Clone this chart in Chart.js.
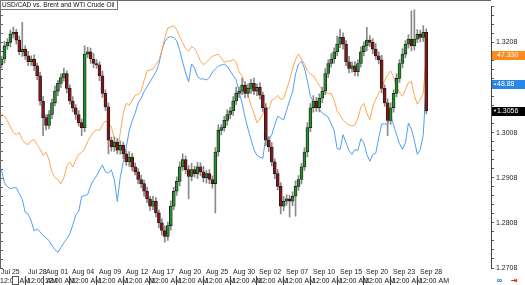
<!DOCTYPE html>
<html>
<head>
<meta charset="utf-8">
<script src="https://cdn.jsdelivr.net/npm/chart.js@4.4.0/dist/chart.umd.min.js"></script>
<style>
  html, body { margin: 0; padding: 0; background: #fff; }
</style>
</head>
<body>
<canvas id="chart" width="525" height="285"></canvas>
<script>
// USD/CAD bars, 3 per trading day, Jul 25 -> Sep 28
const usdcadClose = [
  1.3171, 1.3200, 1.3208, 1.3226, 1.3230, 1.3213, 1.3187, 1.3193, 1.3178, 1.3165,
  1.3171, 1.3156, 1.3134, 1.3078, 1.3041, 1.3024, 1.3048, 1.3074, 1.3100, 1.3117,
  1.3130, 1.3139, 1.3106, 1.3078, 1.3063, 1.3048, 1.3030, 1.3019, 1.3182, 1.3187,
  1.3171, 1.3161, 1.3158, 1.3134, 1.3095, 1.3065, 1.2991, 1.2976, 1.2987, 1.2969,
  1.2980, 1.2961, 1.2943, 1.2954, 1.2932, 1.2921, 1.2904, 1.2895, 1.2878, 1.2861,
  1.2845, 1.2856, 1.2830, 1.2808, 1.2791, 1.2778, 1.2802, 1.2845, 1.2878, 1.2900,
  1.2932, 1.2948, 1.2926, 1.2911, 1.2926, 1.2917, 1.2932, 1.2921, 1.2908, 1.2917,
  1.2904, 1.2895, 1.2965, 1.3013, 1.3019, 1.3035, 1.3048, 1.3056, 1.3078, 1.3095,
  1.3100, 1.3113, 1.3095, 1.3106, 1.3117, 1.3100, 1.3108, 1.3091, 1.3063, 1.2991,
  1.2976, 1.2943, 1.2917, 1.2889, 1.2845, 1.2856, 1.2861, 1.2856, 1.2867, 1.2889,
  1.2904, 1.2932, 1.2965, 1.3019, 1.3063, 1.3078, 1.3063, 1.3084, 1.3100, 1.3139,
  1.3161, 1.3171, 1.3187, 1.3204, 1.3219, 1.3204, 1.3165, 1.3150, 1.3156, 1.3143,
  1.3161, 1.3187, 1.3200, 1.3213, 1.3208, 1.3193, 1.3178, 1.3169, 1.3106, 1.3074,
  1.3035, 1.3063, 1.3095, 1.3128, 1.3161, 1.3182, 1.3204, 1.3215, 1.3200, 1.3215,
  1.3226, 1.3219, 1.3230, 1.3056
];
const firstOpen = 1.3158;

// upper / lower shadows, in pips
const wickUpPips = [
  6, 10, 8, 9, 12, 7, 9, 59, 8, 10,
  7, 9, 6, 8, 10, 7, 9, 8, 11, 7,
  9, 12, 6, 8, 10, 7, 9, 8, 18, 10,
  8, 12, 9, 7, 10, 8, 9, 7, 11, 8,
  10, 7, 9, 12, 8, 9, 7, 10, 8, 9,
  6, 11, 8, 7, 9, 10, 8, 12, 9, 10,
  11, 13, 8, 9, 14, 8, 10, 9, 12, 7,
  9, 8, 10, 12, 7, 9, 11, 8, 10, 13,
  9, 15, 8, 10, 9, 12, 8, 10, 7, 9,
  8, 10, 7, 9, 8, 11, 9, 8, 10, 12,
  9, 8, 10, 11, 9, 12, 8, 10, 9, 11,
  8, 12, 9, 18, 18, 10, 8, 12, 9, 10,
  8, 11, 9, 28, 10, 8, 12, 9, 10, 8,
  9, 11, 8, 10, 9, 12, 8, 10, 63, 65,
  10, 9, 15, 8
];
const wickDownPips = [
  7, 9, 8, 10, 8, 9, 7, 10, 8, 9,
  8, 10, 9, 9, 40, 10, 8, 9, 7, 10,
  9, 8, 10, 7, 9, 11, 8, 18, 9, 8,
  10, 9, 8, 11, 9, 8, 30, 9, 10, 8,
  9, 11, 8, 10, 9, 7, 10, 9, 11, 8,
  10, 8, 9, 11, 10, 13, 9, 10, 8, 9,
  10, 8, 9, 50, 10, 8, 11, 9, 10, 12,
  9, 10, 65, 9, 10, 8, 11, 9, 10, 8,
  9, 8, 10, 9, 11, 8, 10, 9, 8, 12,
  10, 9, 11, 8, 17, 10, 9, 35, 10, 44,
  9, 10, 8, 11, 9, 10, 8, 9, 10, 8,
  9, 8, 10, 9, 8, 11, 9, 10, 8, 9,
  10, 8, 9, 11, 9, 10, 8, 9, 10, 8,
  34, 9, 10, 8, 9, 10, 8, 9, 11, 9,
  8, 10, 9, 6
];

// WTI crude (orange), one value per bar
const wtiPrice = [
  43.75, 43.57, 43.27, 42.90, 42.54, 42.42, 42.54, 42.11, 41.87, 41.81,
  42.05, 42.11, 41.81, 41.51, 41.14, 41.33, 40.84, 40.11, 39.75, 39.63,
  39.38, 39.75, 40.48, 40.72, 40.41, 40.84, 41.20, 41.33, 41.51, 41.99,
  42.30, 42.60, 42.72, 42.66, 43.02, 43.27, 43.09, 42.90, 42.17, 41.33,
  42.54, 43.75, 44.36, 44.24, 44.54, 44.85, 44.91, 45.09, 45.76, 46.36,
  46.42, 46.48, 46.73, 47.03, 47.64, 48.43, 49.03, 49.09, 49.16, 48.91,
  48.49, 48.12, 47.76, 47.58, 47.88, 47.76, 47.40, 46.97, 46.73, 46.91,
  47.09, 47.27, 47.33, 47.40, 47.15, 46.91, 46.97, 46.97, 47.09, 46.91,
  46.30, 46.06, 45.45, 44.85, 44.24, 43.75, 43.15, 43.39, 43.69, 44.18,
  44.00, 44.54, 44.66, 44.85, 44.60, 44.66, 45.21, 45.82, 46.48, 47.09,
  47.40, 47.09, 46.79, 46.36, 46.18, 46.06, 45.76, 45.45, 45.15, 45.03,
  44.97, 44.97, 44.54, 43.87, 43.63, 43.33, 43.15, 43.02, 42.96, 43.02,
  43.45, 44.12, 44.36, 43.75, 43.33, 44.18, 44.60, 44.97, 45.33, 45.76,
  46.12, 46.36, 46.00, 45.39, 45.03, 44.79, 45.21, 45.63, 45.70, 44.85,
  44.30, 44.60, 44.97, 47.33
];

// Brent crude (blue), one value per bar
const brentPrice = [
  45.22, 44.68, 44.51, 44.43, 44.47, 44.47, 44.22, 43.97, 43.43, 43.35,
  43.06, 42.64, 42.73, 42.60, 42.44, 42.35, 42.23, 42.02, 41.85, 41.73,
  41.94, 42.14, 42.31, 42.52, 42.89, 43.31, 43.47, 44.10, 44.14, 44.18,
  44.55, 44.80, 44.97, 45.22, 45.43, 45.14, 45.10, 45.22, 44.80, 43.89,
  44.93, 45.55, 46.18, 46.88, 47.30, 47.63, 48.05, 48.25, 48.54, 48.75,
  48.96, 49.17, 49.37, 49.71, 50.29, 50.66, 50.83, 50.87, 50.83, 50.70,
  50.29, 49.79, 49.33, 48.96, 49.71, 49.54, 49.17, 49.08, 49.08, 49.04,
  49.13, 49.37, 49.50, 49.62, 49.67, 49.71, 49.62, 49.42, 49.21, 49.04,
  48.54, 48.05, 47.46, 46.96, 46.51, 46.09, 45.84, 45.76, 45.72, 46.67,
  46.47, 46.72, 47.13, 47.50, 47.42, 47.34, 47.75, 48.17, 48.54, 49.29,
  49.71, 49.83, 49.54, 49.00, 48.34, 48.13, 47.96, 47.80, 47.63, 47.55,
  47.46, 47.17, 46.88, 46.13, 46.09, 46.72, 46.38, 46.05, 45.88, 46.09,
  46.05, 46.55, 46.38, 45.88, 45.59, 45.88, 45.93, 46.59, 47.17, 47.17,
  47.17, 47.50, 47.13, 46.72, 46.34, 46.09, 46.38, 47.21, 46.96, 46.47,
  45.88, 46.09, 46.72, 48.88
];

// time axis labels (trading day index of each label)
const dateLabels = ['Jul 25', 'Jul 28', 'Aug 01', 'Aug 04', 'Aug 09', 'Aug 12', 'Aug 17', 'Aug 20', 'Aug 25',
  'Aug 30', 'Sep 02', 'Sep 07', 'Sep 10', 'Sep 15', 'Sep 20', 'Sep 23', 'Sep 28'];
const dateDayIndex = [0, 3, 5, 8, 11, 14, 17, 20, 23, 26, 29, 32, 35, 38, 41, 44, 47];
const timeLabel = '12:00 AM';
const BARS_PER_DAY = 3;

const titleText = 'USD/CAD vs. Brent and WTI Crude Oil';

const FONT = '"Liberation Sans", Arial, sans-serif';
const UP = '#23922a';
const DOWN = '#8a1414';
const WTI_COLOR = '#ffa552';
const BRENT_COLOR = '#4f9ef2';

const candles = usdcadClose.map((c, i) => {
  const o = i === 0 ? firstOpen : usdcadClose[i - 1];
  return {
    o, c,
    hi: Math.max(o, c) + wickUpPips[i] / 10000,
    lo: Math.min(o, c) - wickDownPips[i] / 10000
  };
});

const tagAt = (ctx, x, y, bg, text, mark) => {
  y = Math.round(y);
  ctx.fillStyle = bg;
  ctx.fillRect(x, y - 4, 525 - x, 9);
  ctx.fillStyle = '#fff';
  ctx.textBaseline = 'middle';
  ctx.textAlign = 'left';
  ctx.fillText(text, x + 5, y + 0.5);
  if (mark) {
    ctx.font = '4px ' + FONT;
    ctx.fillText(mark, x + 1, y);
    ctx.font = '7px ' + FONT;
  }
};

const overlay = {
  id: 'overlay',
  afterDraw(chart) {
    const { ctx, chartArea: a, scales } = chart;
    ctx.save();
    ctx.font = '7px ' + FONT;

    // top frame line and left ruler
    ctx.strokeStyle = '#666';
    ctx.lineWidth = 1;
    ctx.beginPath();
    ctx.moveTo(0, 0.5); ctx.lineTo(a.right, 0.5);
    ctx.moveTo(0.5, 0); ctx.lineTo(0.5, a.bottom);
    scales.y.ticks.forEach(t => {
      const py = Math.round(scales.y.getPixelForValue(t.value)) + 0.5;
      ctx.moveTo(0, py); ctx.lineTo(3, py);
    });
    ctx.stroke();

    // title box
    ctx.font = '6.5px ' + FONT;
    const tw = Math.ceil(ctx.measureText(titleText).width) + 4;
    ctx.fillStyle = '#fff';
    ctx.fillRect(0, 0, tw + 1, 10);
    ctx.strokeStyle = '#777';
    ctx.strokeRect(0.5, 0.5, tw, 9);
    ctx.fillStyle = '#111';
    ctx.textBaseline = 'middle';
    ctx.textAlign = 'left';
    ctx.fillText(titleText, 2, 5.5);
    ctx.font = '7px ' + FONT;

    // date row + time row
    const xs = scales.x;
    dateLabels.forEach((txt, n) => {
      const px = Math.round(xs.getPixelForValue(dateDayIndex[n] * BARS_PER_DAY - 0.5));
      ctx.fillStyle = '#222';
      ctx.fillText(txt, px + 1, 272);
      ctx.strokeStyle = '#444';
      ctx.beginPath();
      ctx.moveTo(px - 1.5, 276); ctx.lineTo(px - 1.5, 285);
      ctx.stroke();
      ctx.fillStyle = '#111';
      ctx.fillText(timeLabel, px, 281);
    });
    ctx.fillStyle = '#fff';
    ctx.fillRect(12, 276, 7, 9);
    ctx.strokeStyle = '#555';
    ctx.strokeRect(12.5, 276.5, 6, 8);

    // last value tags
    const tx = Math.round(a.right) + 1;
    tagAt(ctx, tx, scales.yWti.getPixelForValue(wtiPrice[wtiPrice.length - 1]), '#ff8a1c',
      wtiPrice[wtiPrice.length - 1].toFixed(3));
    tagAt(ctx, tx, scales.yBrent.getPixelForValue(brentPrice[brentPrice.length - 1]), '#2a86e8',
      brentPrice[brentPrice.length - 1].toFixed(2), '\u25B2');
    tagAt(ctx, tx, scales.y.getPixelForValue(usdcadClose[usdcadClose.length - 1]), '#000',
      usdcadClose[usdcadClose.length - 1].toFixed(4), '\u25BC');

    // corner icons
    ctx.font = 'bold 8px "DejaVu Sans", sans-serif';
    ctx.fillStyle = '#2a6fd6';
    ctx.fillText('\u221E', 496, 281);
    ctx.fillStyle = '#e02020';
    ctx.fillText('\u21E5', 511, 281);
    ctx.restore();
  }
};

const USD_MIN = 1.2708;
const USD_MAX = 1.3288;

new Chart(document.getElementById('chart'), {
  type: 'bar',
  data: {
    datasets: [
      {
        label: 'body',
        data: candles.map((k, i) => ({ x: i, y: [k.o, k.c] })),
        backgroundColor: candles.map(k => (k.c >= k.o ? UP : DOWN)),
        borderColor: '#1a1a1a',
        borderWidth: 0.8,
        borderSkipped: false,
        barThickness: 3,
        minBarLength: 1,
        grouped: false,
        yAxisID: 'y',
        order: 0
      },
      {
        label: 'wick',
        data: candles.map((k, i) => ({ x: i, y: [k.lo, k.hi] })),
        backgroundColor: '#8a8a8a',
        barThickness: 1,
        grouped: false,
        yAxisID: 'y',
        order: 1
      },
      {
        type: 'line',
        label: 'WTI',
        data: wtiPrice.map((v, i) => ({ x: i, y: v })),
        borderColor: WTI_COLOR,
        borderWidth: 1,
        pointRadius: 0,
        yAxisID: 'yWti',
        order: 2
      },
      {
        type: 'line',
        label: 'Brent',
        data: brentPrice.map((v, i) => ({ x: i, y: v })),
        borderColor: BRENT_COLOR,
        borderWidth: 1,
        pointRadius: 0,
        yAxisID: 'yBrent',
        order: 3
      }
    ]
  },
  options: {
    responsive: false,
    animation: false,
    devicePixelRatio: 1,
    events: [],
    layout: { padding: { top: 1, bottom: 17, left: 0, right: 0 } },
    plugins: { legend: { display: false }, tooltip: { enabled: false } },
    scales: {
      x: { type: 'linear', min: -0.5, max: 164.8, display: false, offset: false },
      y: {
        position: 'right',
        min: USD_MIN,
        max: USD_MAX,
        afterBuildTicks: scale => {
          const ticks = [];
          for (let k = 0; USD_MIN + k * 0.002 <= USD_MAX + 1e-9; k++) {
            ticks.push({ value: +(USD_MIN + k * 0.002).toFixed(4) });
          }
          scale.ticks = ticks;
        },
        afterFit: scale => { scale.width = 34; },
        ticks: {
          autoSkip: false,
          padding: 2,
          color: '#222',
          font: { family: FONT, size: 7 },
          callback: v => (Math.round((v - USD_MIN) / 0.002) % 5 === 0 ? v.toFixed(4) : '')
        },
        grid: { drawOnChartArea: false, tickLength: 3, color: '#555' },
        border: { display: true, color: '#444' }
      },
      yWti: { display: false, min: 34.16, max: 50.37 },
      yBrent: { display: false, min: 41.07, max: 52.16 }
    }
  },
  plugins: [overlay]
});
</script>
</body>
</html>
